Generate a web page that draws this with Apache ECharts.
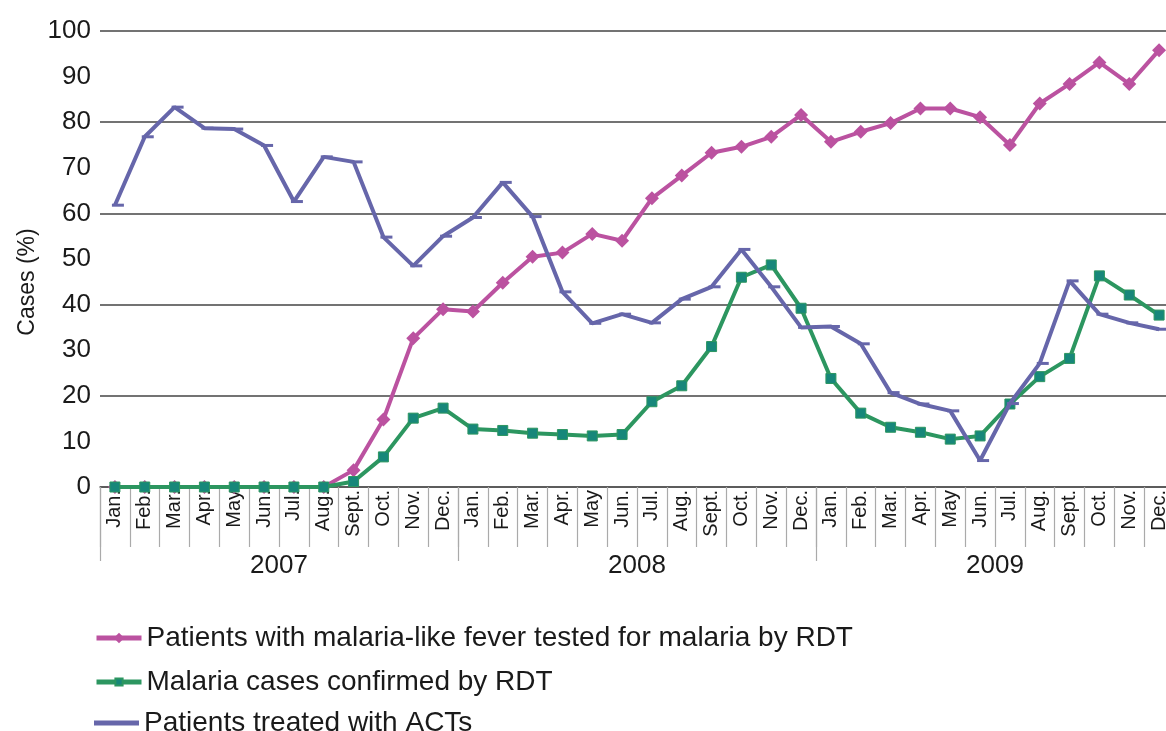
<!DOCTYPE html>
<html>
<head>
<meta charset="utf-8">
<script src="https://cdn.jsdelivr.net/npm/echarts@6/dist/echarts.min.js"></script>
<style>
html,body{margin:0;padding:0;background:#fff;overflow:hidden;width:1166px;height:731px;}
#chart{width:1174px;height:731px;}
</style>
</head>
<body>
<div id="chart"></div>
<script>
// ---- data ----
var months = ["Jan.","Feb.","Mar.","Apr.","May","Jun.","Jul.","Aug.","Sept.","Oct.","Nov.","Dec.",
              "Jan.","Feb.","Mar.","Apr.","May","Jun.","Jul.","Aug.","Sept.","Oct.","Nov.","Dec.",
              "Jan.","Feb.","Mar.","Apr.","May","Jun.","Jul.","Aug.","Sept.","Oct.","Nov.","Dec."];
var years = ["2007","2008","2009"];
var yTicks = [0,10,20,30,40,50,60,70,80,90,100];

var seriesNames = [
  "Patients with malaria-like fever tested for malaria by RDT",
  "Malaria cases confirmed by RDT",
  "Patients treated with ACTs"
];
var tested = [0,0,0,0,0,0,0,0,3.7,14.8,32.6,39.0,
              38.5,44.8,50.5,51.4,55.5,54.0,63.3,68.3,73.3,74.6,76.8,81.6,
              75.7,77.9,79.8,83.0,83.0,81.1,75.0,84.1,88.4,93.1,88.4,95.8];
var confirmed = [0,0,0,0,0,0,0,0,1.2,6.6,15.1,17.3,
                 12.7,12.4,11.8,11.5,11.2,11.5,18.7,22.2,30.8,46.0,48.7,39.2,
                 23.8,16.2,13.1,12.0,10.5,11.2,18.2,24.2,28.2,46.3,42.1,37.7];
var treated = [61.8,76.8,83.3,78.7,78.5,74.9,62.6,72.4,71.3,54.8,48.5,55.0,
               59.1,66.8,59.3,42.8,35.9,37.9,36.0,41.2,43.9,52.1,43.9,35.0,
               35.2,31.4,20.7,18.2,16.7,5.8,18.3,27.1,45.2,37.9,36.0,34.6];

var FONT = "Liberation Sans, Arial, Helvetica, sans-serif";
var COLORS = ['#BB52A0', '#2C9660', '#6666AA'];
var legendTops = [619, 663, 704];

function makeLegend(i, extra) {
  var l = {
    orient: 'horizontal', left: 89, top: legendTops[i],
    itemWidth: 45, itemHeight: 13, itemGap: 10,
    lineStyle: {width: 5},
    textStyle: {fontSize: 28, color: '#1a1a1a', fontFamily: FONT},
    data: [seriesNames[i]]
  };
  if (extra) { for (var k in extra) l[k] = extra[k]; }
  return l;
}

var chart = echarts.init(document.getElementById('chart'), null, {renderer:'canvas', width: 1174, height: 731});
chart.setOption({
  animation: false,
  backgroundColor: '#ffffff',
  textStyle: {fontFamily: FONT},
  grid: {left: 100, top: 31, right: 0, bottom: 244, containLabel: false},
  legend: [
    makeLegend(0),
    makeLegend(1, {itemHeight: 9}),
    makeLegend(2, {icon: 'rect', itemHeight: 5})
  ],
  graphic: [{
    type: 'text', x: 28, y: 282, rotation: Math.PI/2,
    style: {text: 'Cases (%)', fontSize: 23, fontFamily: FONT, fill: '#1a1a1a',
            align: 'center', verticalAlign: 'middle'}
  }],
  xAxis: [{
    type: 'category', data: months, boundaryGap: true, position: 'bottom',
    axisLine: {show: true, lineStyle: {color: '#555', width: 1.5}},
    axisTick: {show: true, interval: 0, length: 60, lineStyle: {color: '#aaaaaa', width: 1.2}},
    axisLabel: {interval: 0, rotate: 90, fontSize: 20, color: '#1a1a1a', margin: 3, fontFamily: FONT},
    splitLine: {show: false}
  }, {
    type: 'category', data: years, boundaryGap: true, position: 'bottom',
    axisLine: {show: false},
    axisTick: {show: true, interval: 0, length: 74, lineStyle: {color: '#aaaaaa', width: 1.2}},
    axisLabel: {interval: 0, fontSize: 26, color: '#1a1a1a', margin: 66, fontFamily: FONT},
    splitLine: {show: false}
  }],
  yAxis: [{
    type: 'value', min: yTicks[0], max: yTicks[yTicks.length-1], interval: yTicks[1]-yTicks[0],
    axisLine: {show: false}, axisTick: {show: false},
    axisLabel: {fontSize: 26, color: '#1a1a1a', margin: 9, fontFamily: FONT},
    splitLine: {show: false}
  }, {
    type: 'value', position: 'left', min: 0, max: 100, interval: 20,
    axisLine: {show: false}, axisTick: {show: false}, axisLabel: {show: false},
    splitLine: {show: true, lineStyle: {color: '#444', width: 1.5}}
  }],
  series: [{
    name: seriesNames[0], type: 'line', data: tested, xAxisIndex: 0, yAxisIndex: 0,
    symbol: 'diamond', symbolSize: 14, showAllSymbol: true,
    lineStyle: {color: COLORS[0], width: 4},
    itemStyle: {color: COLORS[0]}, z: 3
  }, {
    name: seriesNames[1], type: 'line', data: confirmed, xAxisIndex: 0, yAxisIndex: 0,
    symbol: 'rect', symbolSize: 10, showAllSymbol: true,
    lineStyle: {color: COLORS[1], width: 4},
    itemStyle: {color: '#17877A', borderColor: COLORS[1], borderWidth: 1}, z: 4
  }, {
    name: seriesNames[2], type: 'line', data: treated, xAxisIndex: 0, yAxisIndex: 0,
    symbol: 'rect', symbolSize: [12, 3], symbolOffset: [3, 0], showAllSymbol: true,
    lineStyle: {color: COLORS[2], width: 4},
    itemStyle: {color: COLORS[2]}, z: 5
  }]
});
</script>
</body>
</html>
